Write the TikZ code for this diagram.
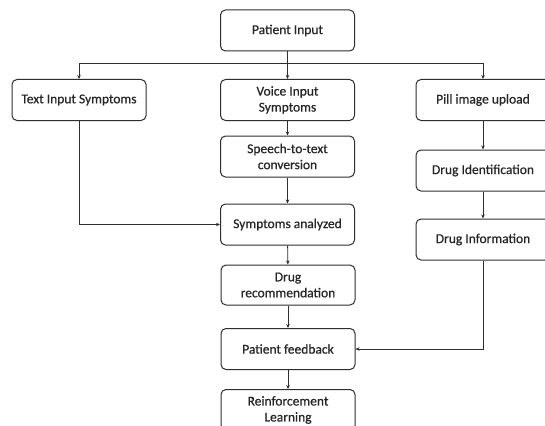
\documentclass[tikz,border=0pt]{standalone}
\usepackage{fontspec}
\setmainfont{Carlito}[FakeBold=0.6]
\usetikzlibrary{arrows.meta}
\definecolor{ink}{HTML}{2E2E2E}
\definecolor{lettering}{HTML}{262626}
\tikzset{
  flowbox/.style={draw=ink, line width=1pt, rounded corners=5pt, minimum width=134pt,
    minimum height=41pt, align=center, text=lettering, inner sep=2pt,
    font=\fontsize{13.5}{16}\selectfont},
  link/.style={draw=ink, line width=0.9pt, -{Stealth[length=4pt,width=3.5pt]}},
  wire/.style={draw=ink, line width=0.9pt}
}
\begin{document}
\begin{tikzpicture}[x=1pt,y=-1pt]
  \useasboundingbox (0,0) rectangle (545,425);
  \fill[white] (0,0) rectangle (545,425);

  % boxes
  \node[flowbox] (patin)  at (287.5,30.5)  {Patient Input};
  \node[flowbox] (textin) at (79,100)      {Text Input Symptoms};
  \node[flowbox] (voice)  at (287.5,100)   {Voice Input\\Symptoms};
  \node[flowbox] (pill)   at (483,100)     {Pill image upload};
  \node[flowbox] (speech) at (287.5,156.5) {Speech-to-text\\conversion};
  \node[flowbox] (symp)   at (287.5,224.5) {Symptoms analyzed};
  \node[flowbox] (drugid) at (483,170.5)   {Drug Identification};
  \node[flowbox] (druginf) at (483,239.5)  {Drug Information};
  \node[flowbox, minimum height=40pt] (drugrec) at (288,285) {Drug\\recommendation};
  \node[flowbox] (feedback) at (288,349)   {Patient feedback};
  \node[flowbox] (rl)     at (288,410)     {Reinforcement\\Learning};

  % fan-out from patient input
  \coordinate (split) at (287.5,63);
  \draw[wire] (patin.south) -- (split);
  \draw[link] (split) -- (voice.north);
  \draw[link] (split) -| (textin.north);
  \draw[link] (split) -| (pill.north);

  % voice branch
  \draw[link] (voice) -- (speech);
  \draw[link] (speech) -- (symp);
  \draw[link] (textin.south) |- (symp.west);
  \draw[link] (symp) -- (drugrec);
  \draw[link] (drugrec) -- (feedback);
  \draw[link] (feedback) -- (rl);

  % pill branch
  \draw[link] (pill) -- (drugid);
  \draw[link] (drugid) -- (druginf);
  \draw[link] (druginf.south) |- (feedback.east);
\end{tikzpicture}
\end{document}
